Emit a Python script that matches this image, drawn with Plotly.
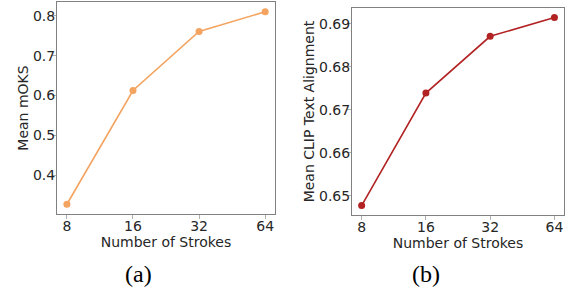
import plotly.graph_objects as go

strokes = [8, 16, 32, 64]
mean_moks = [0.3265, 0.6125, 0.7610, 0.8105]
mean_clip = [0.6477, 0.6739, 0.6871, 0.6915]
moks_ticks = [0.4, 0.5, 0.6, 0.7, 0.8]
clip_ticks = [0.65, 0.66, 0.67, 0.68, 0.69]
captions = ["(a)", "(b)"]

W, H = 572, 292
fig = go.Figure()

fig.add_trace(go.Scatter(x=strokes, y=mean_moks, mode="lines+markers",
                         line=dict(color="#f4a460", width=1.6),
                         marker=dict(color="#f4a460", size=7),
                         xaxis="x", yaxis="y", showlegend=False))
fig.add_trace(go.Scatter(x=strokes, y=mean_clip, mode="lines+markers",
                         line=dict(color="#b22222", width=1.6),
                         marker=dict(color="#b22222", size=7),
                         xaxis="x2", yaxis="y2", showlegend=False))

font = dict(family="DejaVu Sans", size=14, color="#262626")

def xax(domain, anchor):
    return dict(domain=domain, anchor=anchor, type="log", automargin=False,
                range=[0.858, 1.851], tickvals=strokes,
                ticktext=[str(s) for s in strokes],
                showgrid=False, zeroline=False, showline=True, mirror=True,
                linecolor="#808080", linewidth=1, ticks="outside", ticklen=4,
                tickcolor="#b0b0b0", tickfont=font, ticklabelstandoff=-5,
                title=dict(text="Number of Strokes", font=font, standoff=0))

def yax(domain, anchor, rng, tv, fmt, title, standoff):
    return dict(domain=domain, anchor=anchor, range=rng, tickvals=tv,
                tickformat=fmt, automargin=False,
                showgrid=False, zeroline=False, showline=True, mirror=True,
                linecolor="#808080", linewidth=1, ticks="outside", ticklen=4,
                tickcolor="#b0b0b0", tickfont=font, ticklabelstandoff=-6,
                title=dict(text=title, font=font, standoff=standoff))

fig.update_layout(
    width=W, height=H, margin=dict(l=0, r=0, t=0, b=0, autoexpand=False),
    paper_bgcolor="white", plot_bgcolor="white",
    xaxis=xax([57 / W, 275 / W], "y"),
    yaxis=yax([1 - 214 / H, 1 - 2 / H], "x", [0.302, 0.835], moks_ticks, ".1f", "Mean mOKS", 1),
    xaxis2=xax([352 / W, 564 / W], "y2"),
    yaxis2=yax([1 - 215 / H, 1 - 8 / H], "x2", [0.6455, 0.6937], clip_ticks, ".2f", "Mean CLIP Text Alignment", 1),
    annotations=[
        dict(text=captions[0], x=138 / W, y=1 - 274 / H, xref="paper", yref="paper",
             xanchor="center", yanchor="middle",
             showarrow=False, font=dict(family="Liberation Serif", size=24, color="black")),
        dict(text=captions[1], x=426 / W, y=1 - 274 / H, xref="paper", yref="paper",
             xanchor="center", yanchor="middle",
             showarrow=False, font=dict(family="Liberation Serif", size=24, color="black")),
    ],
)

fig.write_html("out.html", config={"displayModeBar": False},
               post_script="document.body.style.margin='0';document.body.style.overflow='hidden';")
